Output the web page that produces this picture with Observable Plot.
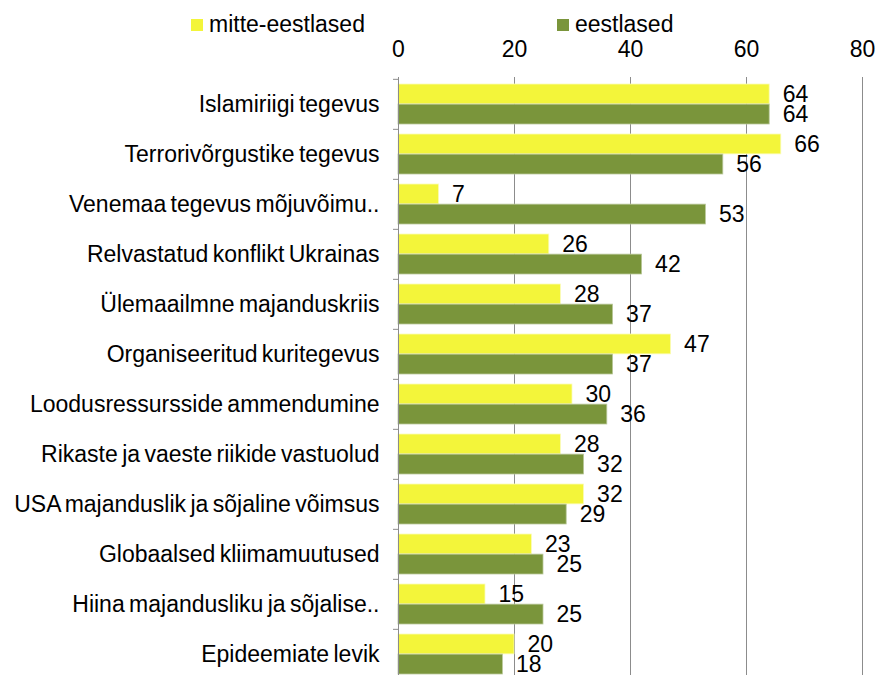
<!DOCTYPE html>
<html>
<head>
<meta charset="utf-8">
<script src="https://cdn.jsdelivr.net/npm/d3@7"></script>
<script src="https://cdn.jsdelivr.net/npm/@observablehq/plot@0.6"></script>
<style>
  html, body { margin: 0; padding: 0; background: #fff; overflow: hidden; }
  #wrap { position: relative; width: 878px; height: 675px; overflow: hidden; font-family: "Liberation Sans", Arial, sans-serif; }
  #legend { position: absolute; top: 0; left: 0; width: 878px; height: 46px; font-size: 23px; color: #000; }
  .item { position: absolute; top: 11px; display: flex; align-items: center; white-space: nowrap; }
  .sw { width: 12px; height: 12px; margin-right: 6px; display: inline-block; }
  #chart svg text { word-spacing: -2px; }
</style>
</head>
<body>
<div id="wrap"><div id="chart"></div><div id="legend"></div></div>
<script>
const categories = [
  "Islamiriigi tegevus",
  "Terrorivõrgustike tegevus",
  "Venemaa tegevus mõjuvõimu..",
  "Relvastatud konflikt Ukrainas",
  "Ülemaailmne majanduskriis",
  "Organiseeritud kuritegevus",
  "Loodusressursside ammendumine",
  "Rikaste ja vaeste riikide vastuolud",
  "USA majanduslik ja sõjaline võimsus",
  "Globaalsed kliimamuutused",
  "Hiina majandusliku ja sõjalise..",
  "Epideemiate levik"
];
const seriesNames = ["mitte-eestlased", "eestlased"];
const mitteEestlased = [64, 66, 7, 26, 28, 47, 30, 28, 32, 23, 15, 20];
const eestlased = [64, 56, 53, 42, 37, 37, 36, 32, 29, 25, 25, 18];
const xTicks = [0, 20, 40, 60, 80];
const colors = ["#f3f53a", "#7a953b"];

const yellow = categories.map((c, i) => ({category: c, value: mitteEestlased[i]}));
const green = categories.map((c, i) => ({category: c, value: eestlased[i]}));

const plotTop = 77, plotBottom = 681;
const pIn = 0.2, pOut = 0.1;
const step = (plotBottom - plotTop) / (categories.length - pIn + 2 * pOut);
const half = step * (1 - pIn) / 2;

const font = '"Liberation Sans", Arial, sans-serif';
const fs = 23;

const chart = Plot.plot({
  width: 878,
  height: plotBottom,
  marginLeft: 398,
  marginRight: 16,
  marginTop: plotTop,
  marginBottom: 0,
  style: {fontFamily: font, fontSize: fs + "px", color: "#000", background: "#fff", overflow: "visible"},
  x: {domain: [0, 80], axis: null, label: null},
  y: {domain: categories, paddingInner: pIn, paddingOuter: pOut, axis: null, label: null},
  marks: [
    Plot.ruleX(xTicks.filter(t => t > 0), {stroke: "#8c8c8c", strokeWidth: 1}),
    Plot.barX(yellow, {y: "category", x: "value", fill: colors[0], insetBottom: half, stroke: "#fbfcb8", strokeWidth: 0.8}),
    Plot.barX(green, {y: "category", x: "value", fill: colors[1], insetTop: half, stroke: "#b9c89a", strokeWidth: 0.8}),
    Plot.ruleX([0], {stroke: "#8c8c8c", strokeWidth: 1}),
    Plot.axisY({anchor: "left", tickSize: 5, text: null, label: null, dy: -step / 2, stroke: "#8c8c8c"}),
    Plot.axisY({anchor: "left", tickSize: 0, tickPadding: 19, label: null, fontSize: fs, fill: "#000"}),
    Plot.axisX({anchor: "top", ticks: xTicks, tickSize: 0, tickPadding: 21, label: null, fontSize: fs, fill: "#000"}),
    Plot.text(yellow, {y: "category", x: "value", text: d => String(d.value), dx: 13, dy: -half / 2, textAnchor: "start", fontSize: fs, fill: "#000"}),
    Plot.text(green, {y: "category", x: "value", text: d => String(d.value), dx: 13, dy: half / 2, textAnchor: "start", fontSize: fs, fill: "#000"})
  ]
});
document.getElementById("chart").appendChild(chart);

const legend = document.getElementById("legend");
const lefts = [191, 557];
seriesNames.forEach((name, i) => {
  const item = document.createElement("div");
  item.className = "item";
  item.style.left = lefts[i] + "px";
  const sw = document.createElement("span");
  sw.className = "sw";
  sw.style.background = colors[i];
  const t = document.createElement("span");
  t.textContent = name;
  item.appendChild(sw);
  item.appendChild(t);
  legend.appendChild(item);
});
</script>
</body>
</html>
